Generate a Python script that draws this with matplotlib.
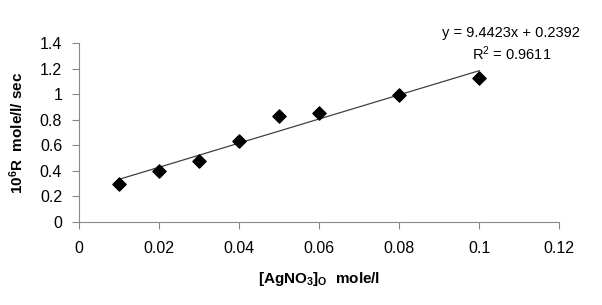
import numpy as np
import matplotlib.pyplot as plt

plt.rcParams['font.family'] = ['Liberation Sans', 'DejaVu Sans']
plt.rcParams['mathtext.default'] = 'regular'

# concentrations and rates
conc = [0.01, 0.02, 0.03, 0.04, 0.05, 0.06, 0.08, 0.1]
rate = [0.297, 0.40, 0.477, 0.633, 0.83, 0.85, 0.99, 1.125]

# linear trendline as printed on the chart
slope = 9.4423
intercept = 0.2392
r2 = 0.9611

xticks = [0, 0.02, 0.04, 0.06, 0.08, 0.1, 0.12]
xticklabels = ['0', '0.02', '0.04', '0.06', '0.08', '0.1', '0.12']
yticks = [0, 0.2, 0.4, 0.6, 0.8, 1, 1.2, 1.4]
yticklabels = ['0', '0.2', '0.4', '0.6', '0.8', '1', '1.2', '1.4']

fig = plt.figure(figsize=(6.02, 3.05), dpi=100)
ax = fig.add_axes([0.131, 0.272, 0.798, 0.587])

xs = np.array([min(conc), max(conc)])
ax.plot(xs, slope * xs + intercept, color='#404040', lw=0.9, zorder=2)
ax.scatter(conc, rate, marker='D', s=45, color='black', zorder=3)

ax.set_xlim(0, 0.12)
ax.set_ylim(0, 1.4)
ax.set_xticks(xticks)
ax.set_xticklabels(xticklabels)
ax.set_yticks(yticks)
ax.set_yticklabels(yticklabels)

for side in ['top', 'right']:
    ax.spines[side].set_visible(False)
for side in ['left', 'bottom']:
    ax.spines[side].set_color('#888888')
ax.tick_params(colors='#888888', labelcolor='black', labelsize=11.5, length=5)
ax.tick_params(axis='x', pad=9)
ax.tick_params(axis='y', pad=7)

ax.set_xlabel('[AgNO$_3$]$_O$  mole/l', fontsize=11, fontweight='bold', labelpad=10)
ax.set_ylabel('10$^6$R  mole/l/ sec', fontsize=11, fontweight='bold', labelpad=10)

ax.text(0.108, 1.478, 'y = 9.4423x + 0.2392', ha='center', va='center',
        fontsize=10.5, clip_on=False)
ax.text(0.108, 1.32, 'R$^2$ = 0.9611', ha='center', va='center',
        fontsize=10.5, clip_on=False)

plt.savefig('out.png', dpi=100)
